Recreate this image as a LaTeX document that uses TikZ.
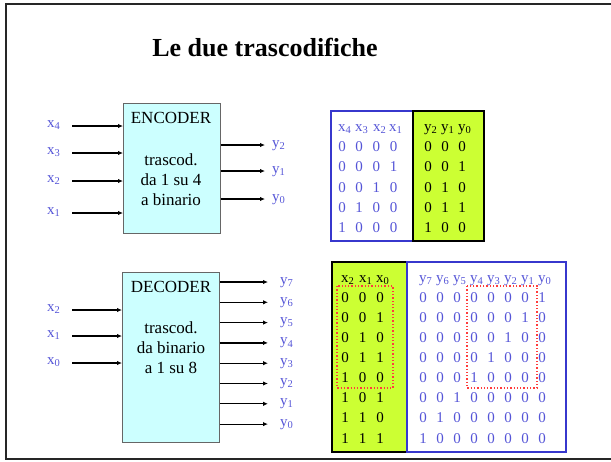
\documentclass[tikz,border=0pt]{standalone}
\usepackage{fontspec}
\setmainfont{Liberation Serif}
\usetikzlibrary{positioning,arrows.meta}

\definecolor{sigblue}{RGB}{85,85,215}
\definecolor{frameblue}{RGB}{55,55,205}
\definecolor{tabgreen}{RGB}{204,255,51}
\definecolor{boxcyan}{RGB}{204,255,255}
\definecolor{dotred}{RGB}{255,60,60}

\newcommand{\idx}[2]{#1\textsubscript{#2}}

\begin{document}
\begin{tikzpicture}[x=1pt,y=-1pt,
    sig/.style={text=sigblue,font=\fontsize{15}{15}\selectfont,inner sep=0pt,anchor=base west},
    blk/.style={draw=black!60,fill=boxcyan,line width=0.8pt,minimum width=97pt,anchor=north west,inner sep=0pt},
    blktxt/.style={font=\fontsize{17}{20}\selectfont,align=center},
    wire/.style={-{Latex[length=5pt,width=4.5pt]},line width=1.2pt},
    cell/.style={font=\fontsize{15}{15}\selectfont,inner sep=0pt,anchor=base},
    head/.style={font=\fontsize{15}{15}\selectfont,inner sep=0pt,anchor=base west}]
    \useasboundingbox (0,0) rectangle (611,461);

    % Slide frame
    \draw[line width=2pt,black!85] (615,4) -- (6,4) -- (6,458.5) -- (615,458.5);

    % Title
    \node[font=\bfseries\fontsize{26}{26}\selectfont] (title) at (265,48) {Le due trascodifiche};

    % Encoder block
    \node[blk,minimum height=130pt] (enc) at (123,103) {};
    \node[blktxt] (enchead) at (171,118) {ENCODER};
    \node[blktxt] (encdesc) at (171,180) {trascod.\\da 1 su 4\\a binario};
    \foreach \n/\y in {4/126,3/153,2/181,1/213} {
        \coordinate (ein\n) at (72,\y);
        \node[sig] (ex\n) at (47,\y+1) {\idx{x}{\n}};
        \draw[wire] (ein\n) -- (ein\n -| enc.west);
    }
    \foreach \n/\y in {2/145,1/171,0/199} {
        \coordinate (eout\n) at (265,\y);
        \draw[wire] (eout\n -| enc.east) -- (eout\n);
        \node[sig] (ey\n) at (272,\y+2) {\idx{y}{\n}};
    }

    % Encoder truth table
    \fill[tabgreen] (413,111) rectangle (484,241);
    \draw[frameblue,line width=1.5pt] (331,111) rectangle (413,241);
    \draw[black,line width=1.5pt] (413,111) rectangle (484,241);
    \foreach \n/\x in {4/342,3/359,2/377,1/393}
        \node[head,text=sigblue] at (\x-4,131) {\idx{x}{\n}};
    \foreach \n/\x in {2/428,1/445,0/462}
        \node[head] at (\x-4,131) {\idx{y}{\n}};
    \foreach \row/\out [count=\i from 0] in {{0,0,0,0}/{0,0,0},{0,0,0,1}/{0,0,1},{0,0,1,0}/{0,1,0},{0,1,0,0}/{0,1,1},{1,0,0,0}/{1,0,0}} {
        \foreach \d [count=\j from 0] in \row
            \node[cell,text=sigblue] at (342+17.2*\j,151.5+20.3*\i) {\d};
        \foreach \d [count=\j from 0] in \out
            \node[cell] at (428+17*\j,151.5+20.3*\i) {\d};
    }

    % Decoder block
    \node[blk,minimum height=170pt] (dec) at (122,272) {};
    \node[blktxt] (dechead) at (171,287) {DECODER};
    \node[blktxt] (decdesc) at (171,348) {trascod.\\da binario\\a 1 su 8};
    \foreach \n/\y in {2/310,1/336,0/363} {
        \coordinate (din\n) at (72,\y);
        \node[sig] (dx\n) at (47,\y+1) {\idx{x}{\n}};
        \draw[wire] (din\n) -- (din\n -| dec.west);
    }
    \foreach \n in {7,6,...,0} {
        \coordinate (dout\n) at (268,{282+20.3*(7-\n)});
        \draw[wire] (dout\n -| dec.east) -- (dout\n);
        \node[sig] (dy\n) at (280,{284+20.3*(7-\n)}) {\idx{y}{\n}};
    }

    % Decoder truth table
    \fill[tabgreen] (332,262) rectangle (407,452);
    \draw[black,line width=1.5pt] (332,262) rectangle (407,452);
    \draw[frameblue,line width=1.5pt] (407,262) rectangle (566,452);
    \foreach \n/\x in {2/345,1/363,0/380}
        \node[head] at (\x-4,282) {\idx{x}{\n}};
    \foreach \n [count=\j from 0] in {7,6,...,0}
        \node[head,text=sigblue] at (423+17*\j-4,282) {\idx{y}{\n}};
    \foreach \row/\out [count=\i from 0] in {
        {0,0,0}/{0,0,0,0,0,0,0,1},{0,0,1}/{0,0,0,0,0,0,1,0},
        {0,1,0}/{0,0,0,0,0,1,0,0},{0,1,1}/{0,0,0,0,1,0,0,0},
        {1,0,0}/{0,0,0,1,0,0,0,0},{1,0,1}/{0,0,1,0,0,0,0,0},
        {1,1,0}/{0,1,0,0,0,0,0,0},{1,1,1}/{1,0,0,0,0,0,0,0}} {
        \foreach \d [count=\j from 0] in \row
            \node[cell] at (345+17.5*\j,302+20.15*\i) {\d};
        \foreach \d [count=\j from 0] in \out
            \node[cell,text=sigblue] at (423+17*\j,302+20.15*\i) {\d};
    }

    % Highlighted sub-tables
    \draw[dotred,dotted,line width=1.3pt] (337,286) rectangle (393,388);
    \draw[dotred,dotted,line width=1.3pt] (467,286) rectangle (537,388);
\end{tikzpicture}
\end{document}
